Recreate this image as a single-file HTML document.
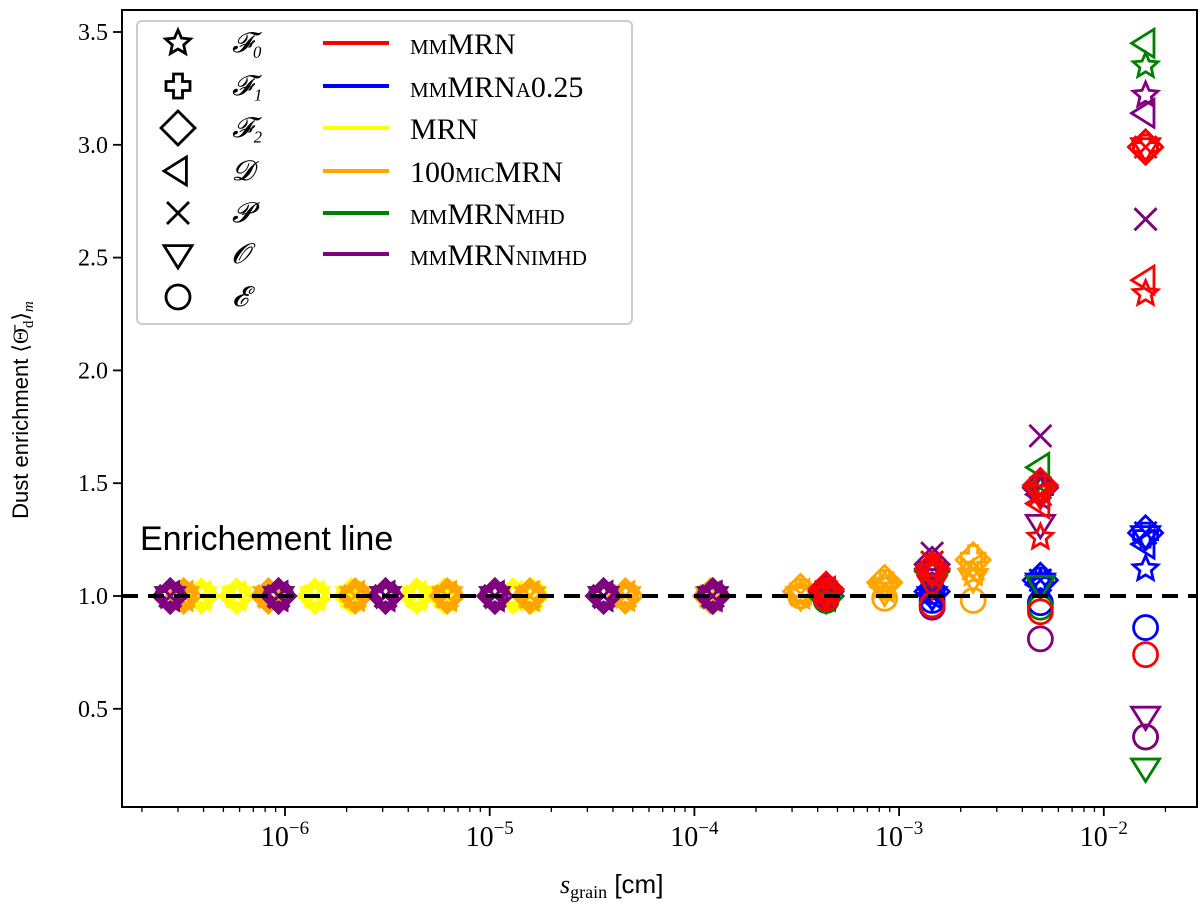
<!DOCTYPE html>
<html><head><meta charset="utf-8"><style>
body{margin:0;background:#fff}
svg text{font-family:"Liberation Serif",serif}
</style></head><body>
<svg id="c" width="1200" height="906" xmlns="http://www.w3.org/2000/svg">
<rect x="0" y="0" width="1200" height="906" fill="#fff"/>
<g id="marks"></g>
<line x1="122" x2="1196" y1="596" y2="596" stroke="#000" stroke-width="4" stroke-dasharray="16,10"/>
<text x="140" y="550" font-size="34" style="font-family:'Liberation Sans',sans-serif">Enrichement line</text>
<rect x="122" y="10" width="1075" height="797" fill="none" stroke="#000" stroke-width="2"/>
<g id="axes"></g>
<text x="560" y="893" font-size="26" font-style="italic">s<tspan font-size="18" font-style="normal" dy="5">grain</tspan><tspan dy="-5" font-style="normal" style="font-family:'Liberation Sans',sans-serif"> [cm]</tspan></text>
<text transform="translate(28,410) rotate(-90)" text-anchor="middle" font-size="22"><tspan style="font-family:'Liberation Sans',sans-serif">Dust enrichment </tspan>⟨Θ̄<tspan font-size="15" dy="5">d</tspan><tspan dy="-5">⟩</tspan><tspan font-size="15" dy="5" font-style="italic">m</tspan></text>
<g>
<rect x="137" y="21" width="495" height="303" rx="5" fill="#fff" fill-opacity="0.85" stroke="#ccc" stroke-width="2"/>
<g id="legend"></g>
</g>
</svg>
<script>
const xTicks=[-6,-5,-4,-3,-2];
const yTicks=[0.5,1.0,1.5,2.0,2.5,3.0,3.5];
const markerNames=["F0","F1","F2","D","P","O","E"];
const markerLabels=["𝓕₀","𝓕₁","𝓕₂","𝓓","𝓟","𝓞","𝓔"];
const modelNames=["mmMRN","mmMRNa0.25","MRN","100micMRN","mmMRNmhd","mmMRNnimhd"];
const modelColors=["#ff0000","#0000ff","#ffff00","#ffa500","#008000","#800080"];
// sizes per model (cm)
const sizesMM=[2.75e-7,9.3e-7,3.1e-6,1.06e-5,3.6e-5,1.23e-4,4.4e-4,1.45e-3,4.9e-3,1.6e-2];
const sizesRed=[4.4e-4,1.45e-3,4.9e-3,1.6e-2];
const sizesMRN=[3.9e-7,5.8e-7,1.4e-6,2.1e-6,4.4e-6,6.0e-6,1.3e-5,1.6e-5];
const sizes100=[3.2e-7,8.3e-7,2.2e-6,6.2e-6,1.57e-5,4.6e-5,1.2e-4,3.3e-4,8.5e-4,2.3e-3];
// values [marker][size]: F0,F1,F2,D,P,O,E
const valsRed=[[1.02,1.12,1.26,2.34],[1.02,1.12,1.48,2.99],[1.03,1.12,1.49,2.99],[1.02,1.1,1.41,2.40],[1.02,1.15,1.45,2.99],[1.0,1.05,1.45,2.99],[0.99,0.96,0.93,0.74]];
const valsBlue=[[1,1,1,1,1,1,1,1.02,1.06,1.12],[1,1,1,1,1,1,1,1.02,1.07,1.27],[1,1,1,1,1,1,1,1.02,1.07,1.28],[1,1,1,1,1,1,1,1.01,1.05,1.23],[1,1,1,1,1,1,1,1.01,1.07,1.28],[1,1,1,1,1,1,1,1.0,1.06,1.27],[1,1,1,1,1,1,1,0.98,0.97,0.86]];
const valsYellow=[[1,1,1,1,1,1,1,1],[1,1,1,1,1,1,1,1],[1,1,1,1,1,1,1,1],[1,1,1,1,1,1,1,1],[1,1,1,1,1,1,1,1],[1,1,1,1,1,1,1,1],[1,1,1,1,1,1,1,1]];
const valsOrange=[[1,1,1,1,1,1,1,1.01,1.05,1.10],[1,1,1,1,1,1,1,1.02,1.06,1.17],[1,1,1,1,1,1,1,1.02,1.06,1.16],[1,1,1,1,1,1,1,1.01,1.04,1.12],[1,1,1,1,1,1,1,1.01,1.04,1.12],[1,1,1,1,1,1,1,1.0,1.02,1.08],[1,1,1,1,1,1,1,1.0,0.99,0.98]];
const valsGreen=[[1,1,1,1,1,1,1.0,1.1,1.47,3.35],[1,1,1,1,1,1,1.0,1.1,1.47,2.99],[1,1,1,1,1,1,1.0,1.11,1.48,2.99],[1,1,1,1,1,1,1.0,1.11,1.57,3.45],[1,1,1,1,1,1,1.0,1.15,1.48,2.67],[1,1,1,1,1,1,0.99,1.05,1.05,0.24],[1,1,1,1,1,1,0.98,0.96,0.95,0.375]];
const valsPurple=[[1,1,1,1,1,1,1.01,1.13,1.48,3.22],[1,1,1,1,1,1,1.01,1.13,1.47,2.99],[1,1,1,1,1,1,1.02,1.14,1.48,2.99],[1,1,1,1,1,1,1.01,1.12,1.45,3.14],[1,1,1,1,1,1,1.02,1.19,1.71,2.67],[1,1,1,1,1,1,1.0,1.08,1.32,0.47],[1,1,1,1,1,1,0.99,0.95,0.81,0.375]];
const drawOrder=[2,3,1,4,5,0];
const allSizes=[sizesRed,sizesMM,sizesMRN,sizes100,sizesMM,sizesMM];
const allVals=[valsRed,valsBlue,valsYellow,valsOrange,valsGreen,valsPurple];

const NS="http://www.w3.org/2000/svg";
function X(s){return 285+204.7*(Math.log10(s)+6);}
function Y(v){return 596-(v-1)*225.6;}
function el(t,a,p){const e=document.createElementNS(NS,t);for(const k in a)e.setAttribute(k,a[k]);p.appendChild(e);return e;}
function starPts(cx,cy,R,r){let p=[];for(let i=0;i<10;i++){const a=-Math.PI/2+i*Math.PI/5,rr=i%2?r:R;p.push((cx+rr*Math.cos(a)).toFixed(1)+","+(cy+rr*Math.sin(a)).toFixed(1));}return p.join(" ");}
function marker(m,cx,cy,k,color,parent){
  const st={fill:"none",stroke:color,"stroke-width":2.8*k};
  let e;
  if(m===0)e=el("polygon",Object.assign({points:starPts(cx,cy,13*k,6*k)},st),parent);
  else if(m===1){const a=4.5*k,b=12*k;e=el("polygon",Object.assign({points:[[-a,-b],[a,-b],[a,-a],[b,-a],[b,a],[a,a],[a,b],[-a,b],[-a,a],[-b,a],[-b,-a],[-a,-a]].map(p=>(cx+p[0])+","+(cy+p[1])).join(" ")},st),parent);}
  else if(m===2){const d=17*k;e=el("polygon",Object.assign({points:`${cx},${cy-d} ${cx+d},${cy} ${cx},${cy+d} ${cx-d},${cy}`},st),parent);}
  else if(m===3){const d=14*k;e=el("polygon",Object.assign({points:`${cx-d},${cy} ${cx+d*0.6},${cy-d} ${cx+d*0.6},${cy+d}`},st),parent);}
  else if(m===4){const d=11*k;e=el("path",Object.assign({d:`M${cx-d},${cy-d}L${cx+d},${cy+d}M${cx+d},${cy-d}L${cx-d},${cy+d}`},st),parent);}
  else if(m===5){const d=14*k;e=el("polygon",Object.assign({points:`${cx},${cy+d} ${cx-d},${cy-d*0.6} ${cx+d},${cy-d*0.6}`},st),parent);}
  else e=el("circle",Object.assign({cx:cx,cy:cy,r:12*k},st),parent);
  return e;
}
const marks=document.getElementById("marks");
drawOrder.forEach(mi=>{
  const g=el("g",{},marks);
  
  
  allVals[mi].forEach((row,m)=>{row.forEach((v,i)=>{
    const e=marker(m,X(allSizes[mi][i]),Y(v),1,modelColors[mi],g);
    
    
  });});
});
const axes=document.getElementById("axes");
for(let d=-7;d<=-2;d++){for(let k=1;k<=9;k++){const s=k*Math.pow(10,d),x=X(s);if(x<122||x>1196)continue;
  const t=el("line",{x1:x,x2:x,y1:807,y2:807+(k===1?9:5),stroke:"#000","stroke-width":k===1?1.8:1.3},axes);
  
  }}
xTicks.forEach(d=>{const x=X(Math.pow(10,d));
  const t=el("text",{x:x,y:846,"text-anchor":"middle","font-size":28},axes);t.innerHTML='10<tspan font-size="19" dy="-12">−'+(-d)+'</tspan>';
  
  });
yTicks.forEach(v=>{const y=Y(v);
  const l=el("line",{x1:113,x2:122,y1:y,y2:y,stroke:"#000","stroke-width":1.8},axes);
  
  
  const t=el("text",{x:108,y:y+8,"text-anchor":"end","font-size":24},axes);t.textContent=v.toFixed(1);
  
  });
const leg=document.getElementById("legend");
const rowsY=[43,86,128,171,213,254,297];
markerNames.forEach((n,m)=>{
  const e=marker(m,178,rowsY[m],1.0,"#000",leg);
  
  
  const t=el("text",{x:232,y:rowsY[m]+9,"font-size":28,"font-style":"italic"},leg);t.textContent=markerLabels[m];
  
  
});
modelNames.forEach((n,i)=>{
  const y=rowsY[i];
  const l=el("line",{x1:323,x2:389,y1:y,y2:y,stroke:modelColors[i],"stroke-width":4},leg);
  
  
  const t=el("text",{x:410,y:y+11,"font-size":30,"font-variant":"small-caps"},leg);t.textContent=n;
  
  
});
</script>
</body></html>
